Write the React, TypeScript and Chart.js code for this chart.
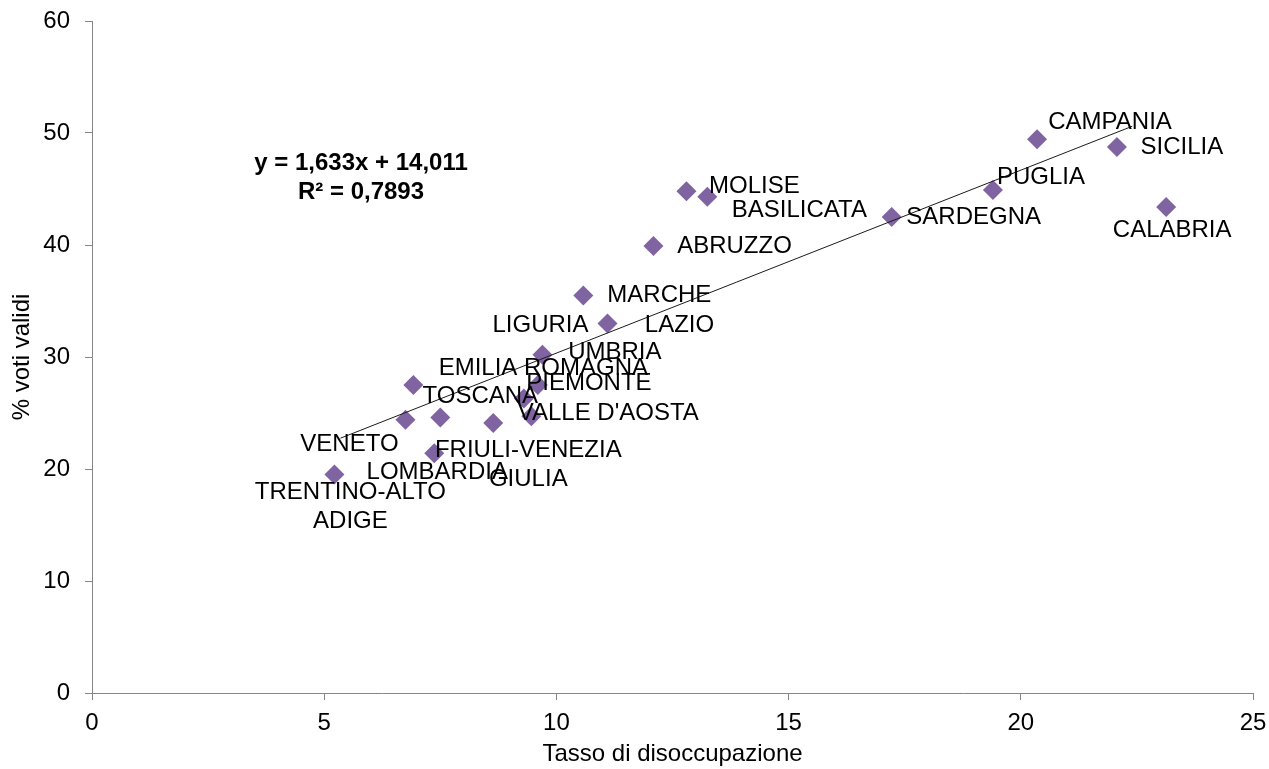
import React, { useEffect, useRef } from "react";
import { Chart, registerables } from "chart.js";

Chart.register(...registerables);

const FONT = "'Liberation Sans', Arial, Helvetica, sans-serif";

const regions = [
  "CAMPANIA", "SICILIA", "PUGLIA", "SARDEGNA", "CALABRIA",
  "MOLISE", "BASILICATA", "ABRUZZO", "MARCHE", "LAZIO",
  "LIGURIA", "UMBRIA", "PIEMONTE", "EMILIA ROMAGNA", "TOSCANA",
  "VENETO", "FRIULI-VENEZIA\nGIULIA", "VALLE D'AOSTA", "LOMBARDIA", "TRENTINO-ALTO\nADIGE",
];

// Tasso di disoccupazione (x)
const unemployment = [
  20.35, 22.07, 19.4, 17.22, 23.13,
  12.8, 13.25, 12.09, 10.58, 11.1,
  9.7, 9.6, 9.3, 6.92, 9.46,
  6.75, 7.5, 8.64, 7.37, 5.22,
];

// % voti validi (y)
const votes = [
  49.45, 48.75, 44.9, 42.5, 43.4,
  44.8, 44.3, 39.9, 35.5, 33.0,
  30.2, 27.5, 26.3, 27.5, 24.7,
  24.4, 24.6, 24.1, 21.4, 19.5,
];

// label placement (pixel offsets of the text centre from the marker)
const labelDX = [73, 65, 48, 82, 6, 68, 92, 81, 76, 72, -2, 77, 65, 130, -51, -56, 88, 115, 3, 16];
const labelDY = [-17, 0, -13, 0, 23, -5, 14, 0, 0, 2, -29, -33, -15, -17, -20, 25, 47, -10, 19, 32];

const trendX = [5.35, 22.4];
const trendY = [22.75, 50.6];

const equationLines = ["y = 1,633x + 14,011", "R\u00B2 = 0,7893"];

const xRange = [0, 25];
const xStep = 5;
const yRange = [0, 60];
const yStep = 10;

const labelsPlugin = {
  id: "pointLabels",
  afterDatasetsDraw(chart: any) {
    const ctx = chart.ctx;
    const meta = chart.getDatasetMeta(1);
    ctx.save();
    ctx.fillStyle = "#000000";
    ctx.font = `24px ${FONT}`;
    ctx.textAlign = "center";
    ctx.textBaseline = "middle";
    const lh = 29;
    meta.data.forEach((el: any, i: number) => {
      const lines = regions[i].split("\n");
      const cx = el.x + labelDX[i];
      const cy = el.y + labelDY[i];
      const start = cy - ((lines.length - 1) * lh) / 2;
      lines.forEach((ln, j) => ctx.fillText(ln, cx, start + j * lh));
    });
    // equation
    const ca = chart.chartArea;
    ctx.font = `bold 24px ${FONT}`;
    ctx.fillText(equationLines[0], ca.left + 269, ca.top + 142);
    ctx.fillText(equationLines[1], ca.left + 269, ca.top + 171);
    ctx.restore();
  },
};

export default function App() {
  const ref = useRef<HTMLCanvasElement | null>(null);
  useEffect(() => {
    if (!ref.current) return;
    const axisColor = "#868686";
    const chart = new Chart(ref.current, {
      type: "scatter",
      data: {
        datasets: [
          {
            type: "line",
            label: "trend",
            data: trendX.map((x, i) => ({ x, y: trendY[i] })),
            borderColor: "#1a1a1a",
            borderWidth: 1,
            pointRadius: 0,
            fill: false,
            order: 0,
          } as any,
          {
            label: "regioni",
            data: unemployment.map((x, i) => ({ x, y: votes[i] })),
            pointStyle: "rectRot",
            pointRadius: 10,
            backgroundColor: "#8064A2",
            borderColor: "#8064A2",
            borderWidth: 0,
            order: 1,
          },
        ],
      },
      options: {
        animation: false,
        responsive: false,
        devicePixelRatio: 1,
        layout: { padding: { top: 21, right: 16, left: 0, bottom: 0 } },
        plugins: { legend: { display: false }, tooltip: { enabled: false } },
        scales: {
          x: {
            type: "linear",
            min: xRange[0],
            max: xRange[1],
            afterFit: (s: any) => { s.height = 76; s.paddingLeft = 0; s.paddingRight = 0; },
            ticks: { stepSize: xStep, color: "#000", font: { family: FONT, size: 24 }, padding: 9, maxRotation: 0 },
            grid: { display: true, drawOnChartArea: false, drawTicks: true, tickLength: 7, color: axisColor, lineWidth: 1 },
            border: { display: true, color: axisColor, width: 1 },
            title: { display: true, text: "Tasso di disoccupazione", color: "#000", font: { family: FONT, size: 24 }, padding: { top: 0, bottom: 0 } },
          },
          y: {
            type: "linear",
            min: yRange[0],
            max: yRange[1],
            afterFit: (s: any) => { s.width = 92; s.paddingTop = 0; s.paddingBottom = 0; },
            ticks: { stepSize: yStep, color: "#000", font: { family: FONT, size: 24 }, padding: 15 },
            grid: { display: true, drawOnChartArea: false, drawTicks: true, tickLength: 7, color: axisColor, lineWidth: 1 },
            border: { display: true, color: axisColor, width: 1 },
            title: { display: true, text: "% voti validi", color: "#000", font: { family: FONT, size: 24 }, padding: { top: 8, bottom: 0 } },
          },
        },
      },
      plugins: [labelsPlugin],
    } as any);
    return () => chart.destroy();
  }, []);
  return (
    <div style={{ position: "absolute", left: 0, top: 0, width: 1269, height: 769, background: "#fff" }}>
      <canvas ref={ref} width={1269} height={769} style={{ display: "block" }} />
    </div>
  );
}
